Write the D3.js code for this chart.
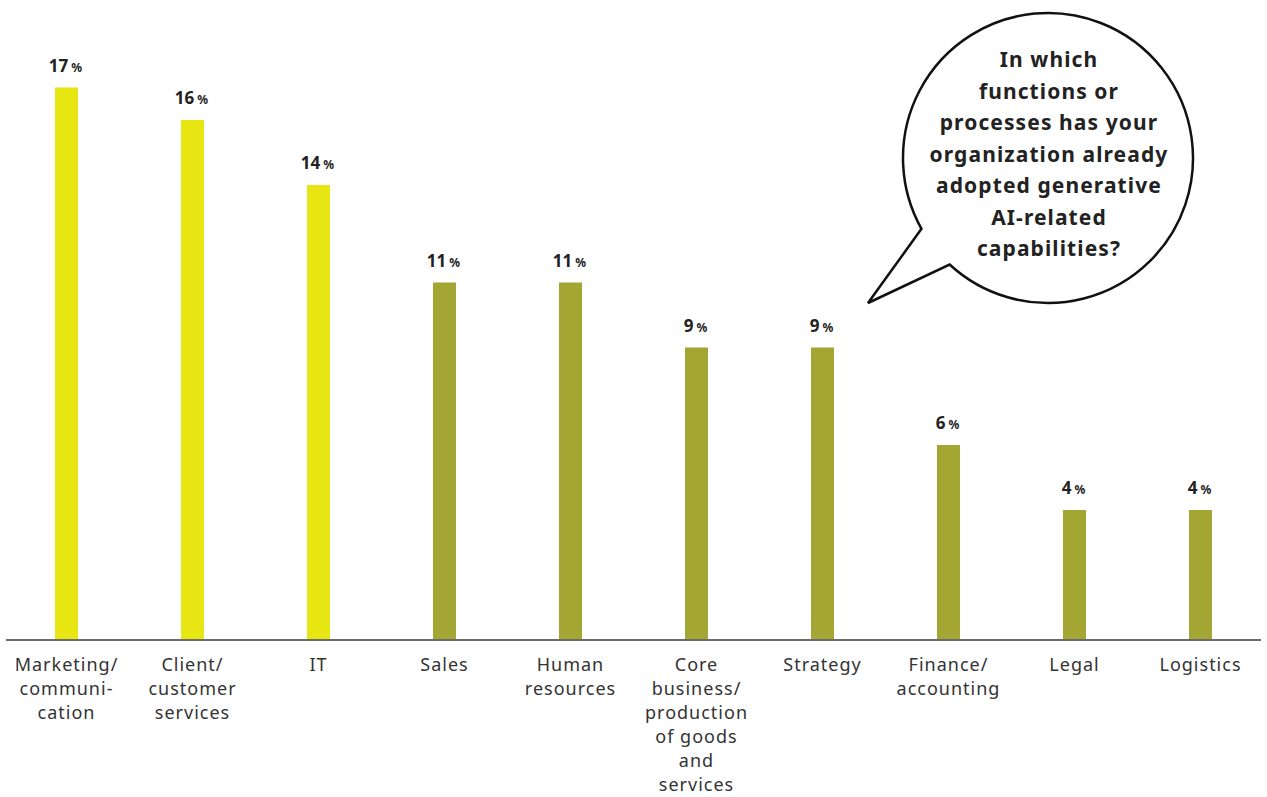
<!DOCTYPE html>
<html>
<head>
<meta charset="utf-8">
<script src="https://cdn.jsdelivr.net/npm/d3@7"></script>
<style>
  body { margin: 0; background: #fff; }
  svg { display: block; font-family: "Noto Sans", sans-serif; }
</style>
</head>
<body>
<div id="chart"></div>
<script>
// chart data
var categories = ["Marketing/\ncommuni-\ncation", "Client/\ncustomer\nservices", "IT", "Sales",
  "Human\nresources", "Core\nbusiness/\nproduction\nof goods\nand\nservices", "Strategy",
  "Finance/\naccounting", "Legal", "Logistics"];
var values = [17, 16, 14, 11, 11, 9, 9, 6, 4, 4];
var highlighted = [true, true, true, false, false, false, false, false, false, false];
var question = ["In which", "functions or", "processes has your", "organization already",
  "adopted generative", "AI-related", "capabilities?"];

var svgWidth = 1267;
var svgHeight = 797;
var baseline = 640;

var svg = d3.select("#chart")
  .append("svg")
  .attr("width", svgWidth)
  .attr("height", svgHeight);

var x = d3.scalePoint()
  .domain(categories)
  .range([3.5, 1263.5])
  .padding(0.5);

var y = d3.scaleLinear()
  .domain([0, 17])
  .range([baseline, 87.5]);

var barWidth = 23;

// bars
svg.selectAll("rect.bar")
  .data(values)
  .enter()
  .append("rect")
  .attr("class", "bar")
  .attr("x", (d, i) => x(categories[i]) - barWidth / 2)
  .attr("y", d => y(d))
  .attr("width", barWidth)
  .attr("height", d => baseline - y(d))
  .attr("fill", (d, i) => highlighted[i] ? "#e8e612" : "#a3a632");

// baseline
svg.append("line")
  .attr("x1", 6)
  .attr("x2", 1261)
  .attr("y1", baseline)
  .attr("y2", baseline)
  .attr("stroke", "#6b6b6b")
  .attr("stroke-width", 2);

// value labels
var valueLabels = svg.selectAll("text.value")
  .data(values)
  .enter()
  .append("text")
  .attr("class", "value")
  .attr("x", (d, i) => x(categories[i]) - 1)
  .attr("y", d => y(d) - 16)
  .attr("text-anchor", "middle")
  .attr("fill", "#222")
  .attr("font-weight", "bold")
  .attr("font-size", 17);

valueLabels.append("tspan").text(d => d);
valueLabels.append("tspan")
  .attr("font-size", 12)
  .attr("dx", 3)
  .text("%");

// category labels
var catLabels = svg.selectAll("text.cat")
  .data(categories)
  .enter()
  .append("text")
  .attr("class", "cat")
  .attr("x", d => x(d))
  .attr("y", 671)
  .attr("text-anchor", "middle")
  .attr("fill", "#333")
  .attr("font-size", 18)
  .attr("letter-spacing", 1);

catLabels.selectAll("tspan")
  .data(d => d.split("\n"))
  .enter()
  .append("tspan")
  .attr("x", function() { return d3.select(this.parentNode).attr("x"); })
  .attr("dy", (d, i) => i === 0 ? 0 : 24)
  .text(d => d);

// speech bubble
var cx = 1048, cy = 158, r = 145;
var a1 = Math.atan2(228 - cy, 923 - cx);
var a2 = Math.atan2(263 - cy, 951 - cx);
var bubble = d3.path();
bubble.moveTo(cx + r * Math.cos(a1), cy + r * Math.sin(a1));
bubble.lineTo(868, 303);
bubble.lineTo(cx + r * Math.cos(a2), cy + r * Math.sin(a2));
bubble.arc(cx, cy, r, a2, a1 + 2 * Math.PI, true);
bubble.closePath();

svg.append("path")
  .attr("d", bubble.toString())
  .attr("fill", "#fff")
  .attr("stroke", "#111")
  .attr("stroke-width", 2.5)
  .attr("stroke-linejoin", "miter");

svg.append("text")
  .attr("text-anchor", "middle")
  .attr("font-weight", "bold")
  .attr("font-size", 21)
  .attr("letter-spacing", 1.1)
  .attr("fill", "#222")
  .selectAll("tspan")
  .data(question)
  .enter()
  .append("tspan")
  .attr("x", 1049)
  .attr("y", (d, i) => 67 + i * 31.5)
  .text(d => d);
</script>
</body>
</html>
